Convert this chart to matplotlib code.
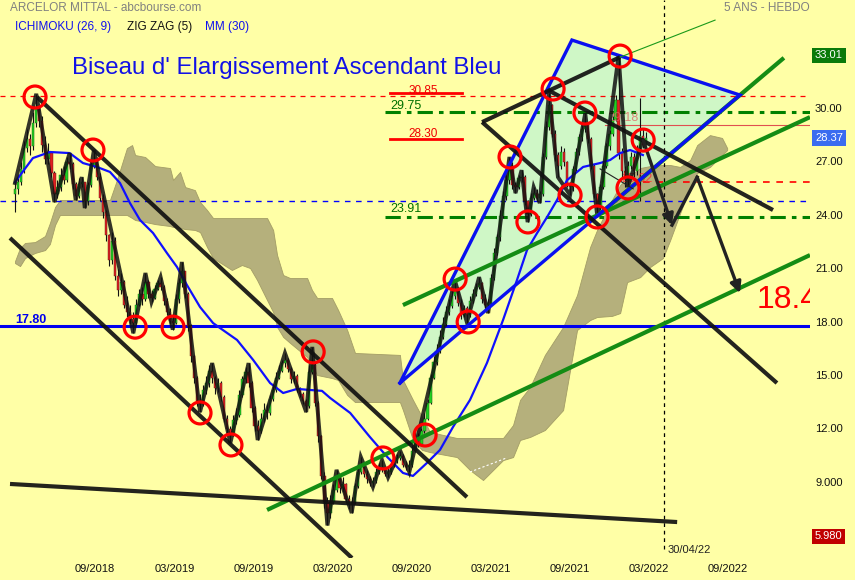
import matplotlib
matplotlib.use('Agg')
import matplotlib.pyplot as plt
import numpy as np
from matplotlib.transforms import blended_transform_factory
from matplotlib.patches import Polygon

plt.rcParams['font.family'] = ['Liberation Sans', 'DejaVu Sans']

# ---------------- data (weekly bars, index 0..208) ----------------
first_open = 25.2
closes = [
    25.5, 25.9, 26.6, 27.8, 28.3, 27.9, 29.2, 30.1, 29.3, 28.0,
    27.2, 27.5, 26.4, 25.2, 25.6, 26.3, 26.0, 27.0, 26.9, 25.8,
    25.1, 25.8, 25.9, 24.8, 25.7, 26.8, 27.1, 26.2, 25.0, 24.2,
    22.9, 21.5, 22.6, 20.6, 19.8, 20.3, 19.0, 18.6, 18.2, 18.0,
    19.0, 19.6, 19.3, 20.3, 19.6, 19.4, 19.9, 20.2, 20.0, 19.2,
    18.6, 18.1, 18.0, 19.3, 20.2, 20.9, 19.6, 17.8, 16.1, 14.9,
    13.6, 13.4, 14.2, 14.6, 15.3, 14.9, 14.3, 14.6, 13.8, 12.6,
    12.0, 11.7, 12.5, 12.8, 13.9, 14.8, 15.2, 14.6, 13.2, 12.2,
    11.9, 12.6, 13.1, 12.9, 13.7, 14.2, 14.9, 15.3, 15.7, 15.9,
    15.4, 14.8, 15.0, 14.2, 14.0, 13.6, 13.3, 15.2, 15.6, 13.5,
    11.6, 9.4, 7.9, 7.3, 7.9, 8.6, 9.3, 8.7, 8.9, 8.1,
    7.8, 7.9, 8.8, 9.6, 10.0, 9.5, 9.2, 9.0, 9.1, 9.6,
    9.9, 9.8, 9.5, 9.6, 10.0, 10.2, 10.4, 10.5, 10.0, 9.9,
    10.0, 10.8, 11.5, 11.2, 11.9, 12.6, 13.5, 14.9, 15.8, 16.4,
    17.2, 17.9, 18.6, 18.9, 19.5, 19.9, 19.1, 18.4, 18.8, 18.4,
    19.2, 19.6, 20.0, 20.2, 19.3, 19.0, 19.1, 20.5, 21.9, 22.8,
    24.0, 25.1, 26.0, 26.8, 25.7, 25.6, 26.1, 26.2, 24.8, 24.1,
    25.0, 25.3, 25.0, 25.2, 27.3, 29.0, 30.2, 28.6, 27.4, 26.8,
    27.6, 27.0, 25.8, 25.6, 26.6, 27.6, 28.4, 28.9, 29.2, 28.3,
    26.8, 25.2, 24.5, 25.6, 26.8, 27.9, 28.6, 29.4, 30.5, 27.5,
    26.5, 26.0, 26.8, 27.3, 26.5, 27.8, 28.5, 28.0, 28.37]
highs = [
    26.0, 26.3, 27.0, 28.2, 28.9, 28.6, 29.8, 30.85, 30.2, 29.6,
    28.5, 28.1, 27.6, 26.5, 26.0, 26.7, 26.8, 27.3, 27.5, 27.0,
    25.9, 26.1, 26.2, 25.9, 25.9, 27.0, 27.7, 27.3, 26.4, 25.2,
    24.3, 23.0, 23.1, 22.8, 21.0, 20.8, 20.4, 19.5, 19.0, 18.6,
    19.3, 19.9, 20.0, 20.8, 20.4, 19.8, 20.1, 20.4, 20.55, 20.1,
    19.4, 18.8, 18.5, 19.6, 20.5, 21.4, 20.9, 19.7, 17.9, 16.2,
    15.0, 14.0, 14.5, 15.0, 15.6, 15.72, 15.0, 14.9, 14.7, 13.9,
    12.8, 12.2, 12.8, 13.2, 14.2, 15.0, 15.5, 15.72, 14.7, 13.3,
    12.5, 12.9, 13.5, 13.4, 13.9, 14.5, 15.2, 15.6, 15.9, 16.3,
    16.0, 15.5, 15.3, 15.1, 14.4, 14.1, 13.7, 15.6, 16.63, 15.7,
    13.6, 11.7, 9.6, 8.2, 8.3, 8.9, 9.72, 9.4, 9.3, 9.0,
    8.3, 8.2, 9.0, 9.9, 10.45, 10.1, 9.7, 9.4, 9.3, 9.8,
    10.1, 10.27, 9.9, 9.8, 10.2, 10.4, 10.6, 10.8, 10.6, 10.2,
    10.3, 11.1, 11.9, 11.8, 12.1, 12.9, 13.7, 15.1, 16.1, 16.8,
    17.6, 18.3, 18.9, 19.3, 19.8, 20.38, 20.0, 19.3, 19.0, 18.9,
    19.5, 19.9, 20.2, 20.55, 20.3, 19.6, 19.3, 20.7, 22.2, 23.0,
    24.3, 25.4, 26.3, 27.3, 27.0, 25.9, 26.3, 26.56, 26.3, 24.9,
    25.3, 25.61, 25.5, 25.4, 27.5, 29.3, 30.89, 30.3, 28.8, 27.6,
    27.9, 27.8, 27.1, 25.9, 26.8, 27.8, 28.6, 29.1, 29.76, 29.2,
    28.4, 26.9, 25.3, 25.8, 27.0, 28.1, 28.8, 29.6, 30.8, 33.01,
    27.8, 26.8, 27.1, 27.6, 27.5, 28.0, 30.6, 28.9, 28.7]
lows = [
    24.2, 25.2, 25.7, 26.4, 27.6, 27.4, 27.7, 29.0, 29.0, 27.6,
    26.9, 26.9, 26.2, 24.77, 25.0, 25.4, 25.8, 25.9, 26.6, 25.5,
    24.88, 25.0, 25.6, 24.43, 24.6, 25.6, 26.7, 26.0, 24.8, 23.9,
    22.6, 21.2, 21.3, 20.4, 19.5, 19.6, 18.8, 18.3, 17.9, 17.4,
    17.9, 18.9, 19.0, 19.2, 19.4, 19.15, 19.3, 19.8, 19.8, 19.0,
    18.4, 17.9, 17.6, 17.9, 19.1, 20.0, 19.4, 17.5, 15.8, 14.6,
    13.3, 12.97, 13.3, 14.0, 14.4, 14.6, 14.0, 14.1, 13.6, 12.4,
    11.8, 11.23, 11.6, 12.3, 12.7, 13.8, 14.6, 14.4, 13.0, 11.9,
    11.4, 11.8, 12.4, 12.6, 12.8, 13.6, 14.1, 14.8, 15.2, 15.5,
    15.2, 14.6, 14.6, 14.1, 13.8, 13.4, 12.97, 13.2, 15.1, 13.3,
    11.3, 9.2, 7.6, 6.6, 7.0, 7.8, 8.5, 8.4, 8.5, 7.9,
    7.5, 7.3, 7.8, 8.7, 9.5, 9.3, 9.0, 8.8, 8.76, 9.0,
    9.5, 9.6, 9.4, 9.3, 9.5, 9.9, 10.1, 10.3, 9.9, 9.7,
    9.6, 9.9, 10.7, 11.0, 11.1, 11.8, 12.5, 13.4, 14.8, 15.6,
    16.3, 17.1, 17.8, 18.4, 18.8, 19.3, 18.9, 18.2, 18.3, 18.0,
    18.3, 19.1, 19.5, 19.9, 19.1, 18.8, 18.53, 19.0, 20.4, 21.8,
    22.6, 23.9, 24.9, 25.8, 25.5, 25.27, 25.5, 25.9, 24.6, 23.64,
    24.0, 24.9, 24.8, 24.71, 25.1, 27.2, 28.8, 28.4, 27.1, 26.17,
    26.6, 26.8, 25.6, 25.16, 25.4, 26.5, 27.4, 28.2, 28.7, 28.1,
    26.6, 25.0, 23.93, 24.3, 25.5, 26.7, 27.7, 28.5, 29.3, 27.2,
    26.2, 25.6, 25.6, 26.6, 26.2, 26.3, 24.8, 27.8, 28.0]

# ZigZag(5) pivots (bar index, price)
zz_i = [0, 7, 13, 18, 20, 22, 23, 26, 39, 43, 45, 48, 52, 55, 61, 65, 71, 77, 80,
        89, 96, 98, 103, 106, 111, 114, 118, 121, 123, 127, 130, 145, 149, 153, 156,
        163, 165, 167, 169, 171, 173, 176, 179, 183, 188, 192, 199, 202, 207]
zz_v = [25.84, 30.85, 24.77, 27.52, 24.88, 26.17, 24.43, 27.69, 17.4, 20.78, 19.15,
        20.55, 17.6, 21.4, 12.97, 15.72, 11.23, 15.72, 11.4, 16.29, 12.97, 16.63, 6.6,
        9.72, 7.3, 10.45, 8.76, 10.27, 9.3, 10.8, 9.6, 20.38, 18.0, 20.55, 18.53, 27.3,
        25.27, 26.56, 23.64, 25.61, 24.71, 30.89, 26.17, 25.16, 29.76, 23.93, 33.01,
        25.6, 28.25]

# MM(30)
mm_i = [0, 5.9, 11.5, 18, 22.4, 27, 31.3, 34.6, 37.9, 41.2, 45.5, 50.1, 53.4, 56.7,
        61, 65.3, 67.6, 73.2, 78.5, 84.1, 88.4, 93, 97.3, 101.2, 103.9, 110.5, 117,
        122.7, 127.9, 131.2, 135.8, 140.1, 144.4, 150, 155.6, 160.9, 165.5, 168.8,
        172.1, 175.4, 178.7, 182, 187.3, 192.9, 196.2, 199.5, 202.8, 207]
mm_v = [25.89, 27.24, 27.58, 27.52, 26.96, 26.74, 26.46, 25.84, 24.71, 23.76, 23.03,
        21.9, 21.12, 20.1, 18.87, 17.97, 17.69, 17.02, 15.9, 14.6, 14.04, 14.27, 14.21,
        14.16, 13.76, 12.92, 11.57, 10.45, 9.55, 9.38, 10.11, 10.84, 12.13, 13.65,
        15.73, 18.14, 20.39, 22.07, 23.02, 23.92, 24.88, 26.0, 26.74, 26.96, 27.13,
        27.52, 27.69, 27.41]

# Ichimoku cloud (upper / lower edge)
cloud_i = [0, 1.65, 3.3, 6.6, 9.9, 11.5, 13.2, 14.8, 31.3, 33.6, 36.9, 38.6, 39.6,
           42.9, 46.2, 51.1, 52.1, 54.4, 56.1, 59.3, 61.0, 63.3, 65.3, 71.5, 74.8, 77.5,
           79.8, 83.1, 85.1, 86.4, 88.4, 90.7, 96.3, 97.9, 99.6, 104.5, 106.5, 109.5,
           112.1, 126.9, 127.9, 131.2, 134.2, 136.8, 145.7, 150.0, 154.3, 157.6, 160.9,
           164.2, 166.5, 169.8, 174.7, 180.7, 185.3, 189.6, 191.9, 196.8, 199.5, 201.8,
           206.1, 209.4, 213.6, 216.0, 219.3, 222.6, 224.9, 229.1, 233.1, 234.8]
cloud_top = [21.45, 22.19, 22.47, 22.52, 22.86, 23.59, 24.49, 24.88, 24.88, 26.01,
             27.80, 27.97, 27.41, 27.30, 26.79, 26.68, 26.01, 26.46, 25.61, 25.44,
             24.77, 24.32, 23.87, 23.87, 23.87, 23.87, 23.87, 23.87, 23.20, 21.79,
             20.67, 20.50, 20.50, 19.83, 19.38, 19.38, 18.71, 17.58, 16.29, 16.18,
             14.77, 13.65, 12.69, 11.85, 11.51, 11.51, 11.51, 11.51, 11.51, 12.24,
             13.65, 14.38, 16.18, 17.75, 19.54, 22.24, 23.20, 24.88, 25.72, 26.12,
             26.68, 26.79, 26.85, 26.85, 26.74, 27.13, 27.97, 28.53, 28.37, 27.80]
cloud_bot = [21.34, 21.17, 21.62, 21.91, 22.07, 22.41, 23.48, 24.04, 24.04, 24.04,
             24.04, 23.87, 23.76, 23.65, 23.53, 23.42, 23.37, 23.31, 23.25, 23.20,
             23.08, 22.24, 21.62, 20.95, 21.23, 21.06, 20.39, 19.26, 18.59, 17.75,
             17.19, 16.85, 16.06, 15.61, 15.05, 14.88, 14.77, 13.93, 13.53, 13.53,
             13.08, 11.40, 10.84, 10.72, 10.44, 9.71, 9.15, 9.71, 10.27, 10.44,
             11.40, 11.57, 11.96, 13.08, 17.58, 18.14, 18.31, 18.37, 18.53, 20.27,
             20.55, 21.12, 21.62, 22.63, 24.15, 25.61, 26.40, 26.74, 27.41, 27.69]

# drawn annotations (bar index, price)
circle_i = [6.6, 25.7, 39.6, 52.1, 61.0, 71.2, 98.3, 121.3, 135.2, 145.1, 149.4,
            163.2, 169.1, 177.4, 187.9, 183.0, 191.9, 199.5, 207.1, 202.1]
circle_v = [30.67, 27.69, 17.74, 17.74, 12.92, 11.12, 16.35, 10.39, 11.68, 20.44,
            18.03, 27.3, 23.65, 31.12, 29.77, 25.16, 23.93, 32.97, 28.25, 25.56]

black_lines = [((7.25, 30.67), (149.0, 8.19)),
               ((-1.65, 22.75), (111.1, 4.77)),
               ((-1.65, 8.93), (218.3, 6.79)),
               ((154.0, 29.26), (199.5, 32.91)),
               ((154.0, 29.26), (251.2, 14.6)),
               ((175.7, 31.06), (249.9, 24.32))]
green_lines = [((127.9, 18.98), (262.1, 29.54)),
               ((83.1, 7.47), (262.1, 21.79)),
               ((192.9, 24.12), (253.5, 32.87))]
wedge_i = [126.9, 183.6, 239.0]
wedge_v = [14.6, 33.87, 30.78]
arrow_i = [207.1, 216.6, 224.9, 239.0]
arrow_v = [28.25, 23.47, 26.17, 19.65]

axis_vals = [30, 27, 24, 21, 18, 15, 12, 9]
axis_txt = ['30.00', '27.00', '24.00', '21.00', '18.00', '15.00', '12.00', '9.000']
tick_pos = [26.4, 52.6, 78.6, 104.7, 130.8, 156.8, 182.9, 209.0, 235.1]
tick_lab = ['09/2018', '03/2019', '09/2019', '03/2020', '09/2020', '03/2021',
            '09/2021', '03/2022', '09/2022']

# ---------------- figure ----------------
BG = '#ffffa6'
fig = plt.figure(figsize=(8.55, 5.8), dpi=100, facecolor=BG)
ax = fig.add_axes([0, 22 / 580, 810 / 855, 558 / 580])
ax.set_xlim(-4.95, 262.1)
ax.set_ylim(4.77, 36.12)
ax.axis('off')

# wedge fill
ax.add_patch(Polygon(list(zip(wedge_i, wedge_v)), closed=True, facecolor='#cff7c6',
                     edgecolor='none', zorder=0.8))
# cloud
ax.fill_between(cloud_i, cloud_top, cloud_bot, facecolor='#b5b07c', edgecolor='#a39d66',
                lw=0.6, zorder=1)
ax.plot([150.0, 162.2], [9.6, 10.4], color='white', lw=0.8, ls=(0, (2, 2)), zorder=1.1)

# horizontal reference lines
ax.axhline(30.75, color='#ff0000', lw=0.9, ls=(0, (4, 4)), zorder=1.5)
ax.axhline(24.83, color='#0000ff', lw=1.0, ls=(0, (4, 4)), zorder=1.5)
ax.axhline(17.80, color='#0000ee', lw=2.2, zorder=1.6)
ax.plot([122.0, 262.1], [29.82, 29.82], color='#008000', lw=2.2, ls=(0, (5, 2, 1.5, 2)), zorder=1.6)
ax.plot([122.0, 262.1], [23.91, 23.91], color='#008000', lw=2.2, ls=(0, (5, 2, 1.5, 2)), zorder=1.6)
ax.plot([194.5, 262.1], [29.1, 29.1], color='#e05050', lw=0.8, zorder=1.5)
ax.plot([207.0, 262.1], [25.9, 25.9], color='#ff0000', lw=1.2, ls=(0, (4, 4)), zorder=1.5)
ax.plot([123.6, 147.4], [30.89, 30.89], color='#ff0000', lw=2.0, zorder=1.6)
ax.plot([123.6, 147.4], [28.30, 28.30], color='#ff0000', lw=2.0, zorder=1.6)
ax.plot([214.0, 214.0], [5.3, 36.12], color='black', lw=0.9, ls=(0, (3, 3)), zorder=1.6)

# candles
n = len(closes)
idx = np.arange(n)
opens = np.array([first_open] + closes[:-1])
c = np.array(closes)
hi = np.maximum(np.array(highs), np.maximum(opens, c))
lo = np.minimum(np.array(lows), np.minimum(opens, c))
up = c >= opens
ax.vlines(idx, lo, hi, color='#111111', lw=0.8, zorder=2)
body_b = np.minimum(opens, c)
body_h = np.maximum(np.abs(c - opens), 0.08)
ax.bar(idx[up], body_h[up], bottom=body_b[up], width=0.75, color='#20d020',
       edgecolor='#1a5a1a', lw=0.3, zorder=2.1)
ax.bar(idx[~up], body_h[~up], bottom=body_b[~up], width=0.75, color='#e02020',
       edgecolor='#5a1a1a', lw=0.3, zorder=2.1)

# faded labels over the candles
ax.text(195.2, 29.5, '29.18', color='#e06060', fontsize=9, ha='left', va='center',
        alpha=0.75, zorder=2.5)
ax.text(205.1, 26.06, '25.62', color='#ff3030', fontsize=9, ha='center', va='center',
        alpha=0.85, zorder=2.5)

# MM30
ax.plot(mm_i, mm_v, color='#1010ff', lw=1.6, zorder=3)
# zigzag
ax.plot(zz_i, zz_v, color='#111111', lw=2.8, alpha=0.85, zorder=4, solid_joinstyle='miter')

# trend lines (green first so the steep one sits under the wedge border)
for (a, b) in green_lines:
    ax.plot([a[0], b[0]], [a[1], b[1]], color='#148c14', lw=3.0, zorder=4.4,
            solid_capstyle='butt')

# wedge border
wi = wedge_i + [wedge_i[0]]
wv = wedge_v + [wedge_v[0]]
ax.plot(wi, wv, color='#0a10f0', lw=2.4, zorder=4.5, solid_joinstyle='miter')

for (a, b) in black_lines:
    ax.plot([a[0], b[0]], [a[1], b[1]], color='#111111', lw=3.0, alpha=0.92, zorder=5,
            solid_capstyle='butt')
ax.plot([199.5, 230.8], [32.91, 34.99], color='#1a9a1a', lw=0.8, zorder=5)
ax.plot([192.9, 203.8], [26.63, 25.51], color='#222222', lw=0.8, zorder=5)

# projection arrows
ax.plot(arrow_i[1:3], arrow_v[1:3], color='#222222', lw=2.4, zorder=5.5)
for k in (0, 2):
    ax.annotate('', xy=(arrow_i[k + 1], arrow_v[k + 1]), xytext=(arrow_i[k], arrow_v[k]),
                arrowprops=dict(arrowstyle='-|>', color='#222222', lw=2.4,
                                mutation_scale=16, shrinkA=0, shrinkB=0), zorder=5.5)

# circles
ax.scatter(circle_i, circle_v, s=250, facecolors='none', edgecolors='#ff0000',
           linewidths=2.3, zorder=6)

# texts inside chart
ax.text(134.5, 31.0, '30.85', color='#ee0000', fontsize=8.5, ha='center', va='center', zorder=7)
ax.text(134.5, 28.6, '28.30', color='#ee0000', fontsize=8.5, ha='center', va='center', zorder=7)
ax.text(123.6, 30.15, '29.75', color='#007000', fontsize=9, ha='left', va='center', zorder=7)
ax.text(123.6, 24.35, '23.91', color='#007000', fontsize=9, ha='left', va='center', zorder=7)
ax.text(0.0, 18.15, '17.80', color='#0000ee', fontsize=9, fontweight='bold', ha='left',
        va='center', zorder=7)
ax.text(244.6, 19.27, '18.4', color='#ff0000', fontsize=23, ha='left', va='center',
        zorder=7, clip_on=True)
ax.text(215.0, 5.22, '30/04/22', color='#222222', fontsize=8, ha='left', va='center', zorder=7)
ax.text(18.8, 32.3, "Biseau d' Elargissement Ascendant Bleu", color='#1212e6', fontsize=17.3,
        ha='left', va='center', zorder=7)

# right price axis labels
tr = blended_transform_factory(ax.transAxes, ax.transData)
for v, t in zip(axis_vals, axis_txt):
    ax.text(815 / 810, v, t, transform=tr, fontsize=8, color='#111111', ha='left',
            va='center', clip_on=False)
for v, t, col in [(33.01, '33.01', '#0a7a0a'), (28.37, '28.37', '#3a6cf0'),
                  (5.98, '5.980', '#c00000')]:
    ax.text(815 / 810, v, t, transform=tr, fontsize=8, color='white', ha='left',
            va='center', clip_on=False,
            bbox=dict(boxstyle='square,pad=0.25', facecolor=col, edgecolor='none'))

# x labels
trx = blended_transform_factory(ax.transData, ax.transAxes)
for p, t in zip(tick_pos, tick_lab):
    ax.text(p, -0.02, t, transform=trx, fontsize=8, color='#111111', ha='center',
            va='center', clip_on=False)

# header
fig.text(10 / 855, 1 - 8 / 580, 'ARCELOR MITTAL - abcbourse.com', fontsize=8.5,
         color='#808080', ha='left', va='center')
fig.text(15 / 855, 1 - 27 / 580, 'ICHIMOKU (26, 9)', fontsize=8.5, color='#1010ee',
         ha='left', va='center')
fig.text(127 / 855, 1 - 27 / 580, 'ZIG ZAG (5)', fontsize=8.5, color='#111111',
         ha='left', va='center')
fig.text(205 / 855, 1 - 27 / 580, 'MM (30)', fontsize=8.5, color='#1010ee',
         ha='left', va='center')
fig.text(810 / 855, 1 - 8 / 580, '5 ANS - HEBDO', fontsize=8.5, color='#808080',
         ha='right', va='center')

fig.savefig('out.png', dpi=100, facecolor=BG)
